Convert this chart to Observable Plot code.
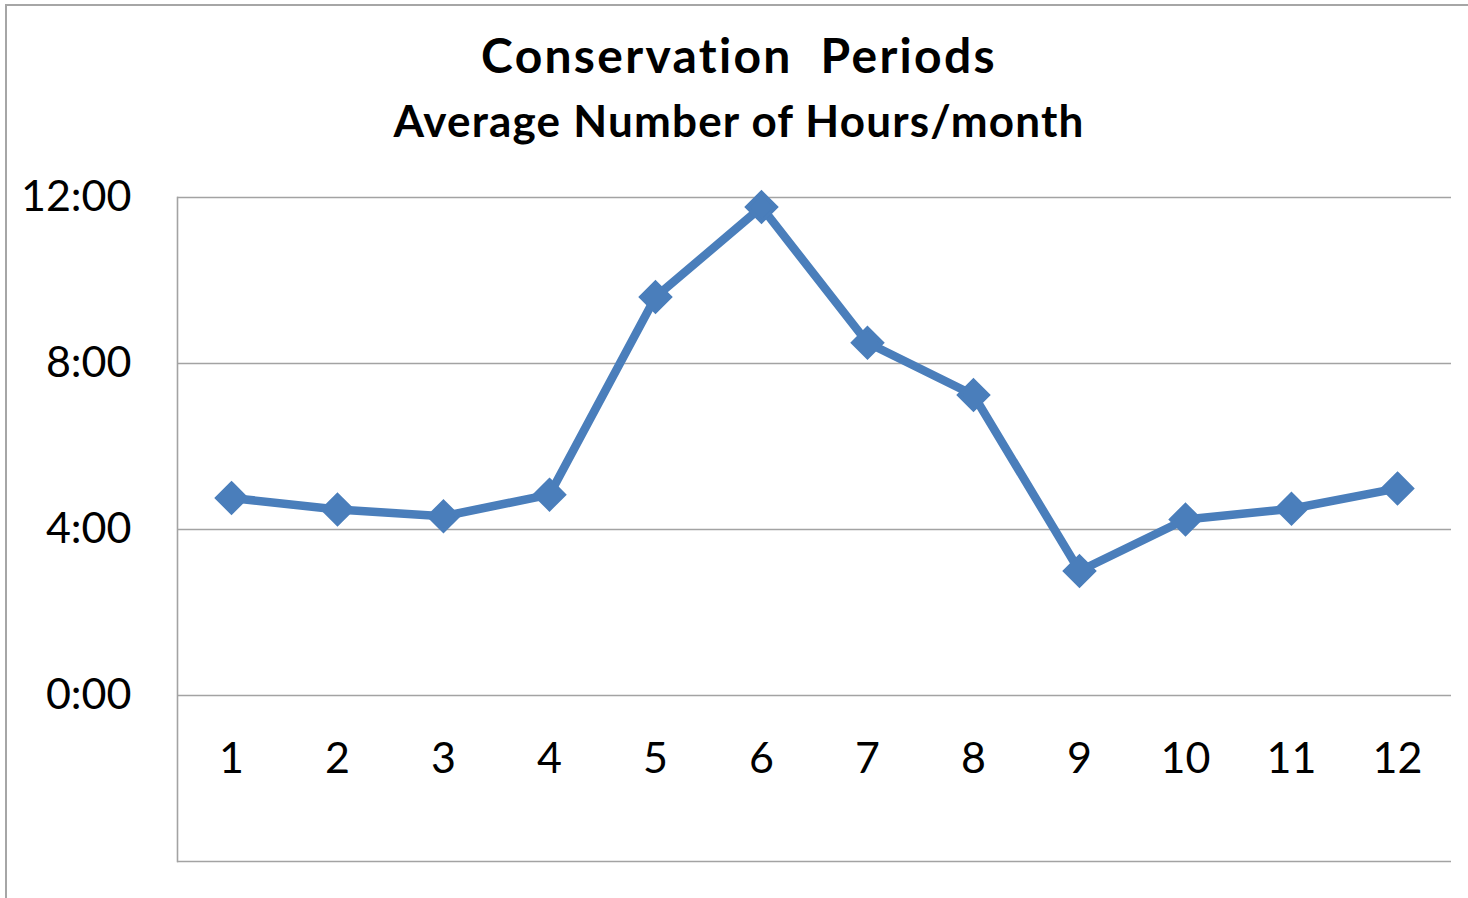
<!DOCTYPE html>
<html>
<head>
<meta charset="utf-8">
<script src="https://cdn.jsdelivr.net/npm/d3@7"></script>
<script src="https://cdn.jsdelivr.net/npm/@observablehq/plot@0.6"></script>
<style>
  html, body { margin: 0; padding: 0; background: #fff; }
  #wrap { position: relative; width: 1468px; height: 898px; overflow: hidden; font-family: Lato, "Open Sans", sans-serif; }
  #border { position: absolute; left: 5px; top: 4px; width: 2000px; height: 2000px;
            border-left: 2px solid #a6a6a6; border-top: 2px solid #a6a6a6; pointer-events: none; }
  #titles { position: relative; height: 150px; }
  .t { position: absolute; left: 10px; width: 1458px; text-align: center; white-space: pre; color: #000; font-weight: 700; line-height: 1; font-variant-ligatures: none; }
  #title { top: 30.5px; font-size: 48px; letter-spacing: 2.3px; }
  #subtitle { top: 98px; font-size: 44px; letter-spacing: 1.2px; }
  svg { display: block; }
</style>
</head>
<body>
<div id="wrap">
  <div id="titles">
    <div class="t" id="title">Conservation  Periods</div>
    <div class="t" id="subtitle">Average Number of Hours/month</div>
  </div>
  <div id="chart"></div>
  <div id="border"></div>
</div>
<script>
const months = [1, 2, 3, 4, 5, 6, 7, 8, 9, 10, 11, 12];
const hours = [4.76, 4.48, 4.32, 4.84, 9.60, 11.77, 8.50, 7.24, 3.00, 4.24, 4.50, 4.99];
const yTicks = [0, 4, 8, 12];
const gridValues = [-4, 0, 4, 8, 12];

const data = months.map((m, i) => ({month: m, hours: hours[i]}));
const blue = "#4a7ebb";
const grid = "#a3a3a3";

const chart = Plot.plot({
  width: 1468,
  height: 748,
  marginTop: 47,
  marginBottom: 37,
  marginLeft: 177,
  marginRight: 17,
  style: {fontFamily: "Lato, 'Open Sans', sans-serif", fontSize: "43px", color: "#000", background: "transparent"},
  x: {type: "point", domain: months, padding: 0.5, axis: null},
  y: {domain: [-4, 12], axis: null},
  marks: [
    Plot.ruleY(gridValues, {stroke: grid, strokeWidth: 1.6}),
    Plot.frame({anchor: "left", stroke: grid, strokeWidth: 1.6}),
    Plot.axisY(yTicks, {tickSize: 0, tickPadding: 46, tickFormat: d => `${d}:00`, fill: "#000", label: null}),
    Plot.text(data, {x: "month", y: 0, dy: 64, text: d => String(d.month), fill: "#000", fontSize: 43}),
    Plot.lineY(data, {x: "month", y: "hours", stroke: blue, strokeWidth: 8.5, strokeLinejoin: "round"}),
    Plot.dot(data, {x: "month", y: "hours", symbol: "diamond2", r: 13, fill: blue, stroke: blue, strokeWidth: 4, strokeLinejoin: "miter"})
  ]
});
document.getElementById("chart").appendChild(chart);
</script>
</body>
</html>
